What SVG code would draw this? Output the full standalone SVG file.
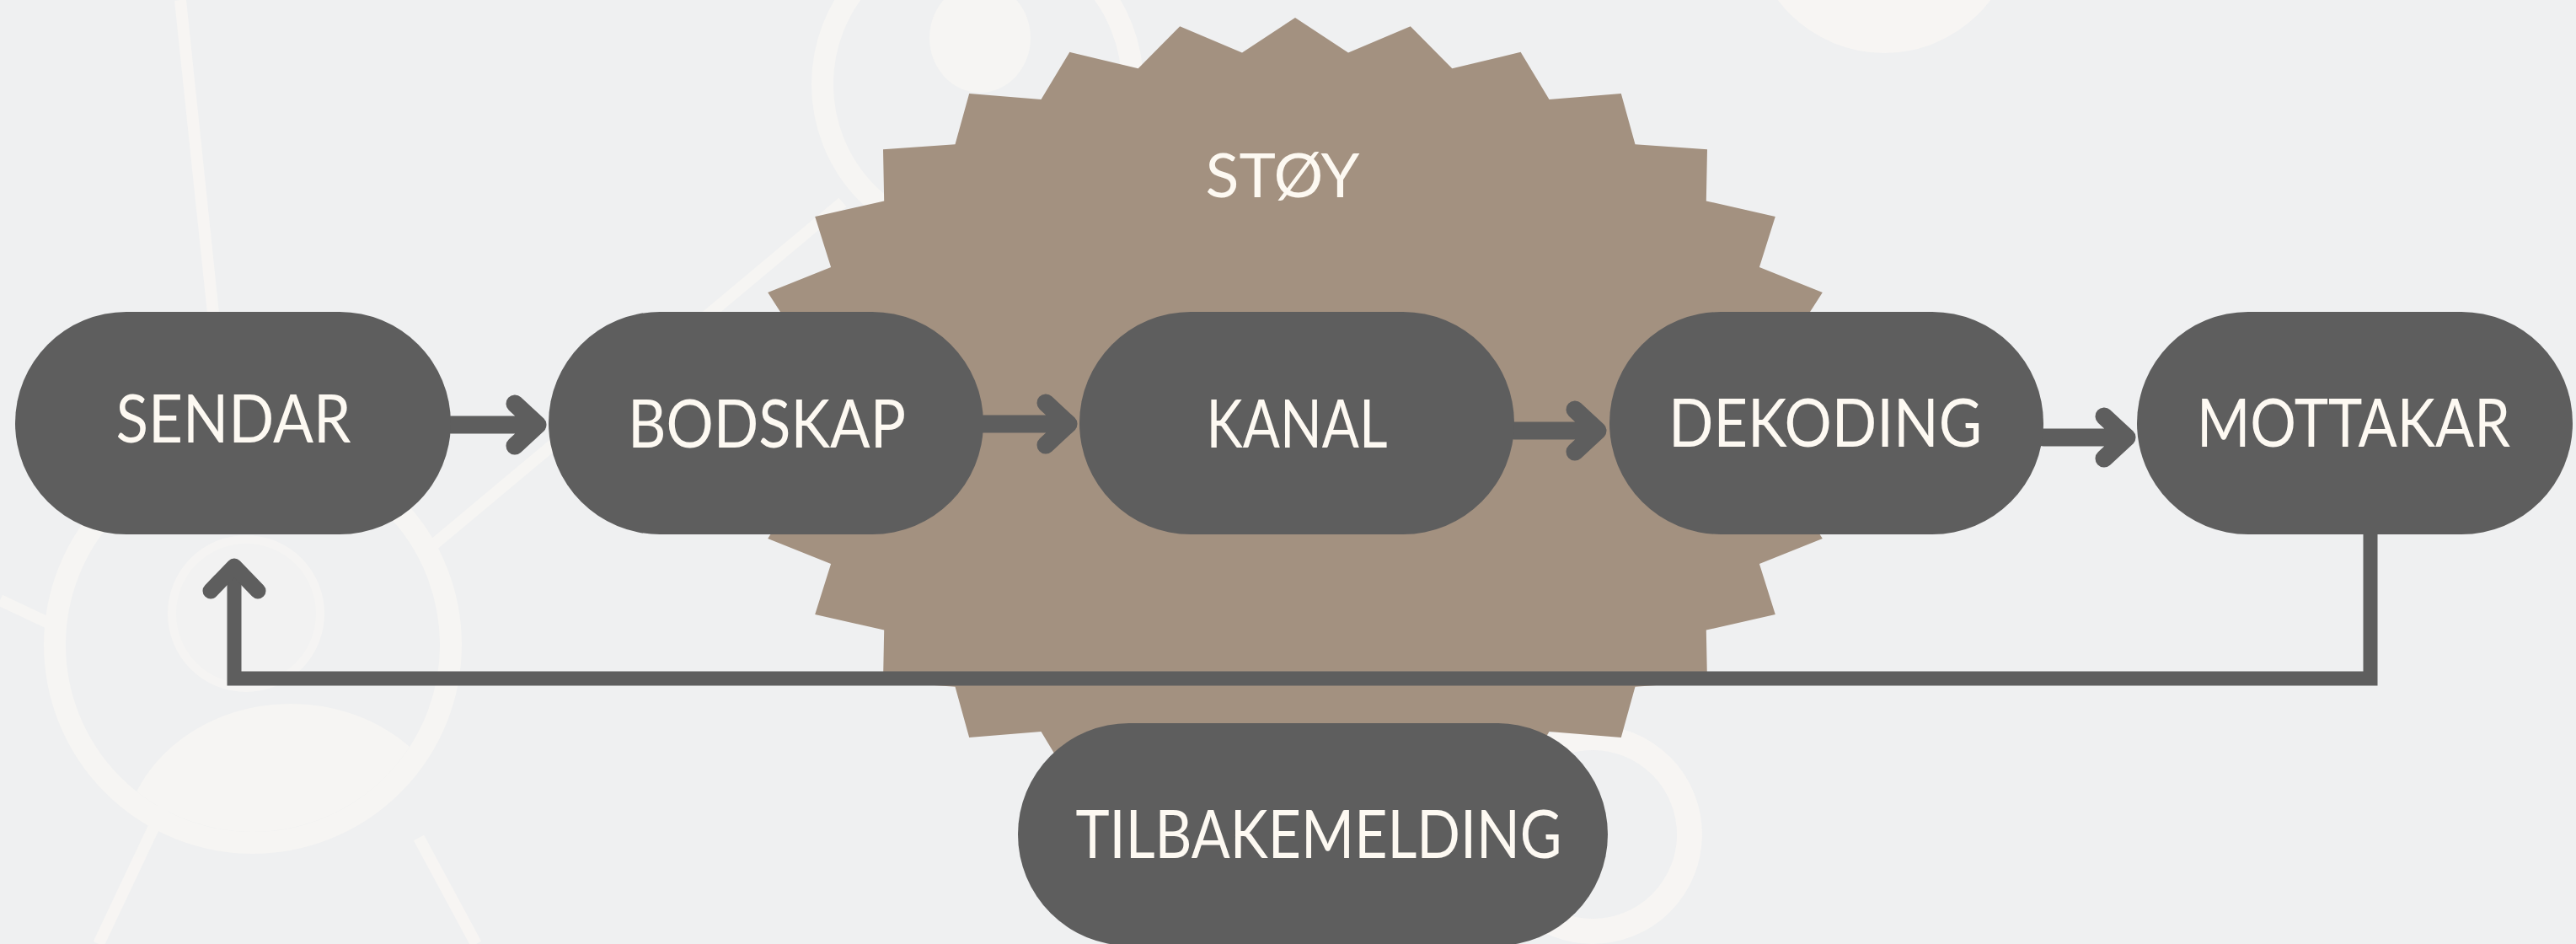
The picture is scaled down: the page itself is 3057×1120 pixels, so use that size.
<svg xmlns="http://www.w3.org/2000/svg" width="3057" height="1120" viewBox="0 0 3057 1120">
<defs>
<style>
.pill{fill:#5e5e5e}
.lbl{font-family:Lato,"Noto Sans","Liberation Sans",sans-serif;font-weight:400;font-size:79px;fill:#fdf9f2;text-anchor:middle}
.conn{stroke:#5e5e5e;stroke-width:21;fill:none;stroke-linecap:round;stroke-linejoin:round}
.fb{stroke:#5e5e5e;stroke-width:17;fill:none;stroke-linejoin:miter}
.deco{stroke:#fbf9f5;fill:none}
.decofill{fill:#fbf9f5}
</style>
<clipPath id="leftIcon"><circle cx="300" cy="765" r="222"/></clipPath>
</defs>
<rect x="0" y="0" width="3057" height="1120" fill="#eff0f1"/>
<g id="background-decoration" opacity="0.6">
<line class="deco" x1="214" y1="0" x2="253" y2="372" stroke-width="14"/>
<line class="deco" x1="510" y1="650" x2="1000" y2="240" stroke-width="14"/>
<line class="deco" x1="0" y1="712" x2="70" y2="745" stroke-width="14"/>
<line class="deco" x1="117" y1="1120" x2="195" y2="955" stroke-width="14"/>
<line class="deco" x1="565" y1="1120" x2="497" y2="994" stroke-width="14"/>
<circle class="deco" cx="300" cy="765" r="235" stroke-width="26"/>
<circle cx="292" cy="728" r="88" fill="#f4f4f3" stroke="#faf8f5" stroke-width="10"/>
<ellipse class="decofill" cx="345" cy="1010" rx="200" ry="175" clip-path="url(#leftIcon)"/>
<circle class="deco" cx="1160" cy="100" r="184" stroke-width="26"/>
<ellipse class="decofill" cx="1163" cy="45" rx="60" ry="65"/>
<circle class="decofill" cx="2236" cy="-95" r="158"/>
<circle class="deco" cx="1890" cy="990" r="115" stroke-width="30"/>
</g>
<g id="noise-stoy">
<polygon fill="#a39180" points="1537,21 1600,62.4 1673.8,31.3 1723.3,81.2 1804.6,61.8 1838.5,118 1923.8,111.1 1940.5,171.2 2026,177.2 2024.8,238.5 2106.8,257 2087.9,316.9 2162.8,347.1 2126.8,403 2191.4,443.7 2140,493 2191.4,542.3 2126.8,583 2162.8,638.9 2087.9,669.1 2106.8,729 2024.8,747.5 2026,808.8 1940.5,814.8 1923.8,874.9 1838.5,868 1804.6,924.2 1723.3,904.8 1673.8,954.7 1600,923.6 1537,965 1474,923.6 1400.2,954.7 1350.7,904.8 1269.4,924.2 1235.5,868 1150.2,874.9 1133.5,814.8 1048,808.8 1049.2,747.5 967.2,729 986.1,669.1 911.2,638.9 947.2,583 882.6,542.3 934,493 882.6,443.7 947.2,403 911.2,347.1 986.1,316.9 967.2,257 1049.2,238.5 1048,177.2 1133.5,171.2 1150.2,111.1 1235.5,118 1269.4,61.8 1350.7,81.2 1400.2,31.3 1474,62.4"/>
<text class="lbl" x="1522" y="234" style="font-size:72px" textLength="183" lengthAdjust="spacingAndGlyphs">STØY</text>
</g>
<g id="connectors">
<path class="conn" d="M535 504 H638 M611 479 L638 504 L611 529"/>
<path class="conn" d="M1167 503 H1268 M1241 478 L1268 503 L1241 528"/>
<path class="conn" d="M1797 511 H1896 M1869 486 L1896 511 L1869 536"/>
<path class="conn" d="M2425 519 H2524 M2497 494 L2524 519 L2497 544"/>
<path class="fb" d="M2813 630 V805 H278 V675"/>
<path class="conn" style="stroke-width:19" d="M250 701 L278 672 L306 701"/>
</g>
<g id="node-sendar">
<rect class="pill" x="18" y="370" width="517" height="264" rx="132"/>
<text class="lbl" x="277" y="525" textLength="279" lengthAdjust="spacingAndGlyphs">SENDAR</text>
</g>
<g id="node-bodskap">
<rect class="pill" x="651" y="370" width="516" height="264" rx="132"/>
<text class="lbl" x="910" y="531" textLength="330" lengthAdjust="spacingAndGlyphs">BODSKAP</text>
</g>
<g id="node-kanal">
<rect class="pill" x="1281" y="370" width="516" height="264" rx="132"/>
<text class="lbl" x="1539" y="531" textLength="215" lengthAdjust="spacingAndGlyphs">KANAL</text>
</g>
<g id="node-dekoding">
<rect class="pill" x="1910" y="370" width="515" height="264" rx="132"/>
<text class="lbl" x="2166" y="530" textLength="372" lengthAdjust="spacingAndGlyphs">DEKODING</text>
</g>
<g id="node-mottakar">
<rect class="pill" x="2536" y="370" width="517" height="264" rx="132"/>
<text class="lbl" x="2793" y="530" textLength="372" lengthAdjust="spacingAndGlyphs">MOTTAKAR</text>
</g>
<g id="node-tilbakemelding">
<rect class="pill" x="1208" y="858" width="700" height="264" rx="132"/>
<text class="lbl" x="1565" y="1018" textLength="577" lengthAdjust="spacingAndGlyphs">TILBAKEMELDING</text>
</g>
</svg>
